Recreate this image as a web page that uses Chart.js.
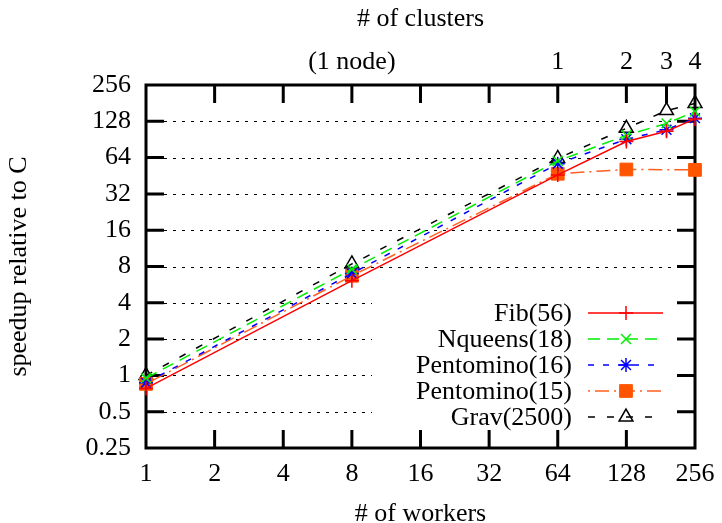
<!DOCTYPE html>
<html>
<head>
<meta charset="utf-8">
<script src="https://cdn.jsdelivr.net/npm/chart.js@4"></script>
<style>
  html, body { margin: 0; padding: 0; background: #fff; }
</style>
</head>
<body>
<canvas id="speedupChart" width="722" height="523"></canvas>
<script>
// values (speedup relative to C)
const workers = [1, 8, 64, 128, 192, 256];
const fib = [0.78, 6.1, 46, 87, 106, 134];
const nqueens = [0.95, 7.6, 60, 98, 123, 154];
const pento16 = [0.87, 7.0, 57, 91, 109, 136];
const pento15Workers = [1, 8, 64, 128, 256];
const pento15 = [0.85, 6.7, 47, 51, 50.6];
const grav = [1.0, 8.4, 63, 112, 157, 180];

const xTicks = [1, 2, 4, 8, 16, 32, 64, 128, 256];
const yTicks = [0.25, 0.5, 1, 2, 4, 8, 16, 32, 64, 128, 256];
const clusterTicks = [8, 64, 128, 192, 256];
const clusterLabels = ["(1 node)", "1", "2", "3", "4"];
const clusterMarks = [1, 2, 4, 8, 16, 32, 64, 128, 192, 256];

const serif = "'Liberation Serif', 'Times New Roman', Times, serif";
const FS = 26;
const TICK = 18;

function pts(xs, ys) {
    return xs.map((v, i) => ({ x: v, y: ys[i] }));
}

// grid, legend background, frame and inward ticks (gnuplot look)
const framePlugin = {
    id: 'frame',
    beforeDatasetsDraw(chart) {
        const { ctx, chartArea: a, scales } = chart;
        const x = scales.x, y = scales.y;
        ctx.save();
        ctx.strokeStyle = '#000';
        ctx.lineWidth = 1;
        ctx.setLineDash([3, 6]);
        yTicks.slice(1, -1).forEach(v => {
            const py = Math.round(y.getPixelForValue(v)) + 0.5;
            ctx.beginPath();
            ctx.moveTo(a.left, py);
            ctx.lineTo(a.right, py);
            ctx.stroke();
        });
        ctx.setLineDash([]);

        // key box is opaque, hides the grid behind it
        ctx.fillStyle = '#fff';
        ctx.fillRect(372, 296, a.right - TICK - 372, 134);

        ctx.lineWidth = 3;
        ctx.beginPath();
        yTicks.slice(1, -1).forEach(v => {
            const py = y.getPixelForValue(v);
            ctx.moveTo(a.left, py); ctx.lineTo(a.left + TICK, py);
            ctx.moveTo(a.right, py); ctx.lineTo(a.right - TICK, py);
        });
        xTicks.slice(1, -1).forEach(v => {
            const px = x.getPixelForValue(v);
            ctx.moveTo(px, a.bottom); ctx.lineTo(px, a.bottom - TICK);
        });
        clusterMarks.slice(1, -1).forEach(v => {
            const px = x.getPixelForValue(v);
            ctx.moveTo(px, a.top); ctx.lineTo(px, a.top + TICK);
        });
        ctx.stroke();
        ctx.strokeRect(a.left, a.top, a.right - a.left, a.bottom - a.top);
        ctx.restore();
    },
    afterDraw(chart) {
        const { ctx } = chart;
        const rowY = [313, 339, 365, 391, 417];
        ctx.save();
        ctx.font = FS + "px " + serif;
        ctx.textAlign = 'right';
        ctx.textBaseline = 'middle';
        chart.data.datasets.forEach((ds, i) => {
            const yy = rowY[i];
            ctx.fillStyle = '#000';
            ctx.fillText(ds.label, 572, yy + 1);
            ctx.strokeStyle = ds.borderColor;
            ctx.lineWidth = ds.borderWidth;
            ctx.setLineDash(ds.borderDash || []);
            ctx.beginPath();
            ctx.moveTo(588, yy);
            ctx.lineTo(663, yy);
            ctx.stroke();
            ctx.setLineDash([]);
            ctx.fillStyle = ds.pointBackgroundColor;
            ctx.strokeStyle = ds.pointBorderColor;
            ctx.lineWidth = ds.pointBorderWidth;
            Chart.helpers.drawPoint(ctx, {
                pointStyle: ds.pointStyle,
                radius: ds.pointRadius,
                rotation: 0,
                borderWidth: ds.pointBorderWidth
            }, 626, yy);
        });
        ctx.restore();
    }
};

function fitX(h) {
    return s => { s.height = h; s.paddingLeft = 0; s.paddingRight = 0; };
}

function draw() {
new Chart(document.getElementById("speedupChart"), {
    type: 'line',
    data: {
        datasets: [{
            label: "Fib(56)",
            data: pts(workers, fib),
            borderColor: "#ff0000",
            borderWidth: 1.5,
            borderDash: [],
            pointStyle: 'cross',
            pointRadius: 7,
            pointBorderColor: "#ff0000",
            pointBackgroundColor: "#ff0000",
            pointBorderWidth: 1.5
        }, {
            label: "Nqueens(18)",
            data: pts(workers, nqueens),
            borderColor: "#00ee00",
            borderWidth: 1.5,
            borderDash: [12, 7],
            pointStyle: 'crossRot',
            pointRadius: 7,
            pointBorderColor: "#00ee00",
            pointBackgroundColor: "#00ee00",
            pointBorderWidth: 1.5
        }, {
            label: "Pentomino(16)",
            data: pts(workers, pento16),
            borderColor: "#0000ff",
            borderWidth: 1.5,
            borderDash: [6, 9],
            pointStyle: 'star',
            pointRadius: 7,
            pointBorderColor: "#0000ff",
            pointBackgroundColor: "#0000ff",
            pointBorderWidth: 1.5
        }, {
            label: "Pentomino(15)",
            data: pts(pento15Workers, pento15),
            borderColor: "#ff6020",
            borderWidth: 1.5,
            borderDash: [2, 5, 14, 5],
            pointStyle: 'rect',
            pointRadius: 9,
            pointBorderColor: "#ff5500",
            pointBackgroundColor: "#ff5500",
            pointBorderWidth: 1
        }, {
            label: "Grav(2500)",
            data: pts(workers, grav),
            borderColor: "#000000",
            borderWidth: 1.5,
            borderDash: [7, 12],
            pointStyle: 'triangle',
            pointRadius: 8,
            pointBorderColor: "#000000",
            pointBackgroundColor: "rgba(0,0,0,0)",
            pointBorderWidth: 1.5
        }].map(d => Object.assign(d, { fill: false, tension: 0, clip: false }))
    },
    plugins: [framePlugin],
    options: {
        responsive: false,
        animation: false,
        layout: { padding: { right: 27, left: 0, top: 0, bottom: 0 } },
        plugins: { legend: { display: false }, tooltip: { enabled: false } },
        scales: {
            x: {
                type: 'logarithmic',
                position: 'bottom',
                min: 1, max: 256,
                grid: { display: false, drawTicks: false },
                border: { display: false },
                afterBuildTicks: s => { s.ticks = xTicks.map(v => ({ value: v })); },
                afterFit: fitX(75),
                ticks: {
                    color: '#000', padding: 11, maxRotation: 0, autoSkip: false,
                    font: { family: serif, size: FS },
                    callback: v => String(v)
                },
                title: {
                    display: true, text: "# of workers", color: '#000',
                    padding: 0, font: { family: serif, size: FS, lineHeight: 0.7 }
                }
            },
            x2: {
                type: 'logarithmic',
                position: 'top',
                axis: 'x',
                min: 1, max: 256,
                grid: { display: false, drawTicks: false },
                border: { display: false },
                afterBuildTicks: s => { s.ticks = clusterTicks.map(v => ({ value: v })); },
                afterFit: fitX(85),
                ticks: {
                    color: '#000', padding: 7, maxRotation: 0, autoSkip: false,
                    font: { family: serif, size: FS },
                    callback: v => clusterLabels[clusterTicks.indexOf(v)]
                },
                title: {
                    display: true, text: "# of clusters", color: '#000',
                    padding: { top: 4, bottom: 0 }, font: { family: serif, size: FS }
                }
            },
            y: {
                type: 'logarithmic',
                min: 0.25, max: 256,
                grid: { display: false, drawTicks: false },
                border: { display: false },
                afterBuildTicks: s => { s.ticks = yTicks.map(v => ({ value: v })); },
                afterFit: s => { s.width = 146; s.paddingTop = 0; s.paddingBottom = 0; },
                ticks: {
                    color: '#000', padding: 15, autoSkip: false,
                    font: { family: serif, size: FS },
                    callback: v => String(v)
                },
                title: {
                    display: true, text: "speedup relative to C", color: '#000',
                    padding: { top: 4, bottom: 0 }, font: { family: serif, size: FS }
                }
            }
        }
    }
});
}

if (document.fonts && document.fonts.load) {
    document.fonts.load(FS + "px 'Liberation Serif'").then(draw, draw);
} else {
    draw();
}
</script>
</body>
</html>
